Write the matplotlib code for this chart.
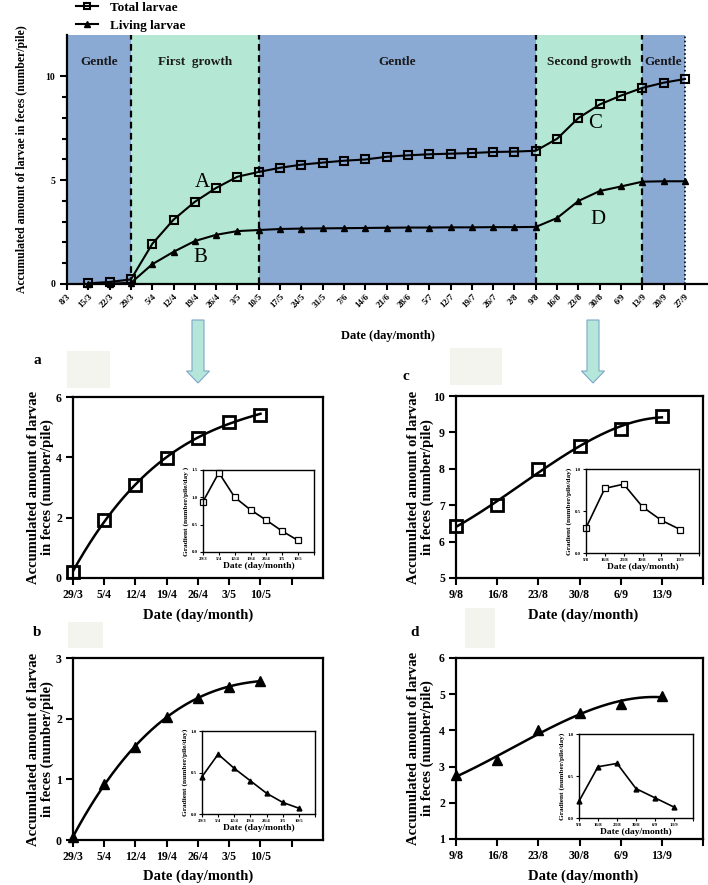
"""
Accumulated larvae in feces: season overview plus the two growth phases.
"""
import numpy as np
import matplotlib
matplotlib.use('Agg')
from matplotlib import pyplot as plt
from matplotlib.patches import Rectangle, FancyArrow

plt.rcParams['font.family'] = ['Liberation Serif', 'DejaVu Serif']
plt.rcParams['font.weight'] = 'bold'
plt.rcParams['axes.labelweight'] = 'bold'

# ---- season overview ----
dates = ['8/3', '15/3', '22/3', '29/3', '5/4', '12/4', '19/4', '26/4', '3/5', '10/5',
         '17/5', '24/5', '31/5', '7/6', '14/6', '21/6', '28/6', '5/7', '12/7', '19/7',
         '26/7', '2/8', '9/8', '16/8', '23/8', '30/8', '6/9', '13/9', '20/9', '27/9']
total = [0.03, 0.1, 0.22, 1.93, 3.1, 3.96, 4.63, 5.17, 5.4, 5.6, 5.75, 5.85, 5.94, 6.0,
         6.13, 6.2, 6.25, 6.28, 6.31, 6.36, 6.38, 6.42, 7.0, 8.0, 8.65, 9.08, 9.45, 9.7, 9.88]
living = [0.0, 0.02, 0.05, 0.95, 1.55, 2.07, 2.37, 2.55, 2.6, 2.65, 2.67, 2.68, 2.69, 2.7,
          2.71, 2.72, 2.72, 2.73, 2.73, 2.74, 2.74, 2.75, 3.18, 4.0, 4.48, 4.7, 4.93, 4.95, 4.95]
phase_edges = [0, 3, 9, 22, 27, 29]
phase_names = ['Gentle', 'First  growth', 'Gentle', 'Second growth', 'Gentle']
phase_kind = ['gentle', 'growth', 'gentle', 'growth', 'gentle']

# ---- first growth phase (a, b) ----
dates_1 = ['29/3', '5/4', '12/4', '19/4', '26/4', '3/5', '10/5']
total_1 = [0.2, 1.93, 3.08, 3.97, 4.65, 5.17, 5.42]
living_1 = [0.05, 0.93, 1.53, 2.03, 2.35, 2.53, 2.62]
grad_total_1 = [0.92, 1.45, 1.0, 0.77, 0.58, 0.38, 0.21]
grad_living_1 = [0.45, 0.72, 0.55, 0.4, 0.25, 0.14, 0.07]

# ---- second growth phase (c, d) ----
dates_2 = ['9/8', '16/8', '23/8', '30/8', '6/9', '13/9']
total_2 = [6.44, 7.0, 8.0, 8.64, 9.1, 9.44]
living_2 = [2.76, 3.17, 4.0, 4.49, 4.72, 4.95]
grad_total_2 = [0.3, 0.77, 0.82, 0.55, 0.39, 0.28]
grad_living_2 = [0.2, 0.61, 0.65, 0.35, 0.24, 0.13]

BLUE = '#8aa9d3'
GREEN = '#b4e8d5'

fig = plt.figure(figsize=(7.08, 8.85), dpi=100)

# ---------------- top overview ----------------
ax = fig.add_axes([0.0946, 0.6791, 0.9054, 0.2814])
for i, name in enumerate(phase_names):
    lo, hi = phase_edges[i], phase_edges[i + 1]
    ax.axvspan(lo, hi, color=BLUE if phase_kind[i] == 'gentle' else GREEN, lw=0, zorder=0)
    ax.text((lo + hi) / 2, 10.7, name, ha='center', va='center', fontsize=9.5,
            fontweight='bold', color='#1a1a1a')
for e in phase_edges[1:-1]:
    ax.axvline(e, color='black', ls=(0, (3, 2)), lw=1.6, zorder=1)
ax.axvline(phase_edges[-1], color='black', ls=(0, (1, 1.5)), lw=1.2, zorder=1)

x_all = np.arange(1, len(dates))
ax.plot(x_all, total, color='black', lw=1.5, marker='s', ms=5.5, mfc='none',
        mec='black', mew=1.5, label='Total larvae', zorder=3, clip_on=False)
ax.plot(x_all, living, color='black', lw=1.5, marker='^', ms=4.5, mfc='black',
        mec='black', label='Living larvae', zorder=3, clip_on=False)

for lbl, (tx, ty) in zip('ABCD', [(6.35, 4.9), (6.25, 1.3), (24.8, 7.75), (24.9, 3.1)]):
    ax.text(tx, ty, lbl, fontsize=15, fontweight='normal', ha='center', va='center')

ax.set_xlim(0, 30.08)
ax.set_ylim(0, 12)
ax.set_xticks(np.arange(len(dates)))
ax.set_xticklabels(dates, rotation=45, ha='right', rotation_mode='anchor', fontsize=6.5)
ax.set_yticks([0, 5, 10])
ax.set_yticks([1, 2, 3, 4, 6, 7, 8, 9], minor=True)
ax.tick_params(axis='y', labelsize=7, width=1.5, length=5)
ax.tick_params(axis='y', which='minor', width=1.5, length=3.5)
ax.tick_params(axis='x', width=1.5, length=4, pad=2)
for s in ['top', 'right']:
    ax.spines[s].set_visible(False)
for s in ['left', 'bottom']:
    ax.spines[s].set_linewidth(1.6)
ax.set_xlabel('Date (day/month)', fontsize=9, va='center')
ax.xaxis.set_label_coords(0.5, -0.209)
ax.set_ylabel('Accumulated amount of larvae in feces (number/pile)', fontsize=8.5, va='center')
ax.yaxis.set_label_coords(-0.07, 0.5)
ax.legend(loc='upper left', bbox_to_anchor=(0.107, 0.998), bbox_transform=fig.transFigure,
          frameon=False, fontsize=9.5, handlelength=1.7, handletextpad=0.9,
          labelspacing=0.4, borderpad=0, borderaxespad=0, markerscale=0.9)

# arrows pointing to the detail panels
for xc in [198, 593]:
    fig.patches.append(FancyArrow(xc / 708, 1 - 320 / 885, 0, -63 / 885, width=12 / 708,
                                  head_width=23 / 708, head_length=12 / 885,
                                  length_includes_head=True, transform=fig.transFigure,
                                  fc='#b5e6da', ec='#7ea6c8', lw=0.8))

# faint boxes beside the panel letters
for (x0, y0, x1, y1) in [(67, 351, 110, 388), (450, 348, 502, 385),
                         (68, 622, 103, 648), (465, 608, 495, 648)]:
    fig.patches.append(Rectangle((x0 / 708, 1 - y1 / 885), (x1 - x0) / 708, (y1 - y0) / 885,
                                 transform=fig.transFigure, fc='#f4f4ef', ec='none'))


def panel(rect, inset_rect, labels, values, grads, ylim, yticks, xmax, gylim, gyticks,
          marker, letter, letter_xy, ylab_x, xlab_y, xlab_x, grad_label):
    ax = fig.add_axes(rect)
    n = len(values)
    xs = np.arange(n)
    coef = np.polyfit(xs, values, 3)
    xf = np.linspace(0, n - 1, 200)
    ax.plot(xf, np.polyval(coef, xf), color='black', lw=1.8, zorder=2)
    if marker == 's':
        ax.plot(xs, values, ls='none', marker='s', ms=8, mfc='none', mec='black', mew=2,
                zorder=3, clip_on=False)
    else:
        ax.plot(xs, values, ls='none', marker='^', ms=6.5, mfc='black', mec='black',
                zorder=3, clip_on=False)
    ax.set_xlim(0, xmax)
    ax.set_ylim(*ylim)
    ax.set_yticks(yticks)
    ticks = np.arange(0, xmax + 0.01 if xmax == n else xmax)
    ax.set_xticks(ticks)
    ax.set_xticklabels(labels + [''] * (len(ticks) - n))
    ax.tick_params(labelsize=8.5, width=1.5, length=5, pad=3)
    for s in ax.spines.values():
        s.set_linewidth(1.6)
    ax.set_ylabel('Accumulated amount of larvae\nin feces (number/pile)', fontsize=10.5,
                  va='center', linespacing=1.05)
    ax.yaxis.set_label_coords(ylab_x, 0.5)
    ax.set_xlabel('Date (day/month)', fontsize=10.5, va='center')
    ax.xaxis.set_label_coords(xlab_x, xlab_y)
    fig.text(letter_xy[0] / 708, 1 - letter_xy[1] / 885, letter, fontsize=11,
             fontweight='bold', ha='center', va='center')

    ins = fig.add_axes(inset_rect)
    if marker == 's':
        ins.plot(xs, grads, color='black', lw=1.2, marker='s', ms=4.5, mfc='white',
                 mec='black', mew=0.9, clip_on=False)
    else:
        ins.plot(xs, grads, color='black', lw=1.2, marker='^', ms=3.5, mfc='black',
                 mec='black', clip_on=False)
    ins.set_xlim(0, n if n == 7 else 6)
    ins.set_ylim(*gylim)
    ins.set_yticks(gyticks)
    ins.set_yticklabels(['%.1f' % v for v in gyticks])
    gt = np.arange(0, (n if n == 7 else 6) + 1)
    ins.set_xticks(gt)
    ins.set_xticklabels(labels + [''] * (len(gt) - n))
    ins.tick_params(labelsize=3.5, width=0.8, length=2, pad=1.5)
    for s in ins.spines.values():
        s.set_linewidth(1.0)
    ins.set_xlabel('Date (day/month)', fontsize=6.8, labelpad=1)
    ins.set_ylabel(grad_label, fontsize=5.3, labelpad=2)


panel([0.1031, 0.3469, 0.3531, 0.2045], [0.2867, 0.3763, 0.1568, 0.0927], dates_1,
      total_1, grad_total_1, (0, 6), [0, 2, 4, 6], 8, (0, 1.5), [0.0, 0.5, 1.0, 1.5], 's',
      'a', (37, 360), -0.128, -0.204, 0.5, 'Gradient (number/pile/day )')
panel([0.1031, 0.0508, 0.3531, 0.2056], [0.2853, 0.0802, 0.1596, 0.0938], dates_1,
      living_1, grad_living_1, (0, 3), [0, 1, 2, 3], 8, (0, 1.0), [0.0, 0.5, 1.0], '^',
      'b', (37, 633), -0.128, -0.198, 0.5, 'Gradient (number/pile/day)')
panel([0.6441, 0.3469, 0.3489, 0.2056], [0.8277, 0.3751, 0.1596, 0.0949], dates_2,
      total_2, grad_total_2, (5, 10), [5, 6, 7, 8, 9, 10], 6, (0, 1.0), [0.0, 0.5, 1.0], 's',
      'c', (406, 377), -0.142, -0.204, 0.514, 'Gradient (number/pile/day)')
panel([0.6441, 0.052, 0.3489, 0.2045], [0.8178, 0.0757, 0.1610, 0.0949], dates_2,
      living_2, grad_living_2, (1, 6), [1, 2, 3, 4, 5, 6], 6, (0, 1.0), [0.0, 0.5, 1.0], '^',
      'd', (415, 633), -0.142, -0.204, 0.514, 'Gradient (number/pile/day)')

fig.savefig('out.png', dpi=100)
